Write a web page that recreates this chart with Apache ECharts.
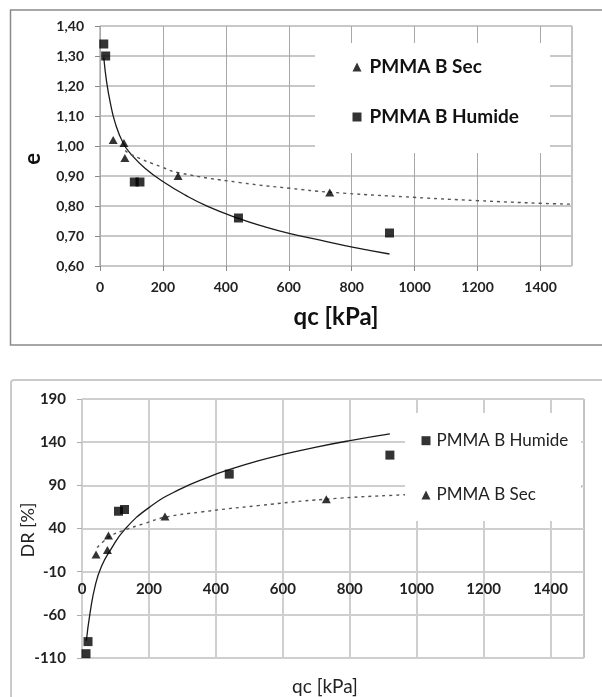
<!DOCTYPE html>
<html>
<head>
<meta charset="utf-8">
<script src="https://cdn.jsdelivr.net/npm/echarts@6/dist/echarts.min.js"></script>
<style>
  html, body { margin: 0; padding: 0; background: #fff; }
  #chart { width: 602px; height: 697px; }
</style>
</head>
<body>
<div id="chart"></div>
<script>
// Measurements: cone resistance qc [kPa] vs void ratio e and relative density DR [%]
const qcHumide = [12, 18, 109, 127, 440, 920];
const eHumide = [1.34, 1.30, 0.88, 0.88, 0.76, 0.71];
const drHumide = [-105, -91, 60, 62, 103, 125];

const qcSec = [42, 76, 79, 248, 730];
const eSec = [1.02, 1.01, 0.96, 0.90, 0.845];
const drSec = [10, 15, 32, 54, 74];

// Trend curves (e)
const trendHumideQcE = [12, 21, 32, 48, 74, 101, 143, 201, 270, 344, 440, 520, 604, 700, 806, 920];
const trendHumideE = [1.295, 1.214, 1.148, 1.078, 1.009, 0.97, 0.926, 0.881, 0.837, 0.798, 0.759, 0.732, 0.708, 0.686, 0.662, 0.640];
const trendSecQcE = [80, 101, 196, 249, 445, 604, 731, 996, 1198, 1399, 1500];
const trendSecE = [0.985, 0.97, 0.93, 0.911, 0.878, 0.859, 0.846, 0.829, 0.818, 0.809, 0.806];

// Trend curves (DR)
const trendHumideQcDr = [13, 24, 39, 58, 88, 128, 198, 287, 387, 438, 526, 602, 700, 801, 920];
const trendHumideDr = [-90, -58, -27, -4, 17, 39, 63.6, 84.4, 101, 108, 118.3, 125.8, 134.3, 141.8, 149.5];
const trendSecQcDr = [45, 64, 88, 118, 188, 248, 353, 526, 731, 960, 1500];
const trendSecDr = [18, 25, 32, 37, 46, 53, 59, 66.5, 74, 79, 88];

// Axis ticks
const qcTicks = [0, 200, 400, 600, 800, 1000, 1200, 1400];
const eTicks = [0.6, 0.7, 0.8, 0.9, 1.0, 1.1, 1.2, 1.3, 1.4];
const drTicks = [-110, -60, -10, 40, 90, 140, 190];

const pairs = (xs, ys) => xs.map((x, i) => [x, ys[i]]);
const FONT = 'Lato';

const chart = echarts.init(document.getElementById('chart'), null, { renderer: 'canvas' });

const markerSec = { symbol: 'triangle', symbolSize: [9, 8], itemStyle: { color: '#000' } };
const markerHum = { symbol: 'rect', symbolSize: 9, itemStyle: { color: '#000' } };
const plain = v => String(v);

// DR axis: the qc labels sit on the DR = 0 level, as in the spreadsheet layout
const drGridTop = 399, drGridHeight = 259, drMin = -110, drMax = 190;
const zeroOffset = -(0 - drMin) / (drMax - drMin) * drGridHeight;

const trendSolid = { smooth: 0.5, showSymbol: false, lineStyle: { color: '#1a1a1a', width: 1.3 }, z: 2, silent: true };
const trendDashed = { smooth: 0.5, showSymbol: false, lineStyle: { color: '#555', width: 1.4, type: [3, 4] }, z: 2, silent: true };

chart.setOption({
  animation: false,
  backgroundColor: '#fff',
  grid: [
    { left: 100, top: 26, width: 472, height: 240, show: true, borderColor: '#888', borderWidth: 1, backgroundColor: 'transparent' },
    { left: 82, top: drGridTop, width: 502, height: drGridHeight, show: true, borderColor: '#888', borderWidth: 1, backgroundColor: 'transparent' }
  ],
  xAxis: [
    {
      gridIndex: 0, type: 'value', min: 0, max: 1500,
      axisLine: { show: false },
      axisTick: { show: true, inside: false, length: 5, lineStyle: { color: '#888' }, customValues: qcTicks },
      axisLabel: { customValues: qcTicks, formatter: plain, margin: 14, fontFamily: FONT, fontWeight: 'bold', fontSize: 14, color: '#222' },
      splitLine: { show: true, lineStyle: { color: '#a8a8a8', width: 1 } }
    },
    {
      gridIndex: 1, type: 'value', min: 0, max: 1500, position: 'bottom', offset: zeroOffset,
      axisLine: { show: false, onZero: false },
      axisTick: { show: false, customValues: qcTicks },
      axisLabel: { customValues: qcTicks, formatter: plain, margin: 19, fontFamily: FONT, fontWeight: 'bold', fontSize: 15, color: '#222' },
      splitLine: { show: true, lineStyle: { color: '#cfcfcf', width: 2 } }
    }
  ],
  yAxis: [
    {
      gridIndex: 0, type: 'value', min: 0.6, max: 1.4,
      axisLine: { show: false },
      axisTick: { show: true, inside: false, length: 5, lineStyle: { color: '#888' }, customValues: eTicks },
      axisLabel: {
        customValues: eTicks, margin: 16, fontFamily: FONT, fontWeight: 'bold', fontSize: 14, color: '#222',
        formatter: v => v.toFixed(2).replace('.', ',')
      },
      splitLine: { show: true, lineStyle: { color: '#c8c8c8', width: 2 } }
    },
    {
      gridIndex: 1, type: 'value', min: drMin, max: drMax,
      axisLine: { show: false },
      axisTick: { show: true, inside: false, length: 5, lineStyle: { color: '#aaa' }, customValues: drTicks },
      axisLabel: { customValues: drTicks, formatter: plain, margin: 16, fontFamily: FONT, fontWeight: 'bold', fontSize: 15, color: '#222' },
      splitLine: { show: true, lineStyle: { color: '#cfcfcf', width: 2 } }
    }
  ],
  legend: [
    {
      orient: 'vertical', left: 352.5, top: 57, padding: 0, itemGap: 30,
      itemWidth: 9, itemHeight: 9, selectedMode: false,
      textStyle: { fontFamily: FONT, fontWeight: 'bold', fontSize: 19, lineHeight: 20, color: '#111', padding: [0, 0, 0, 3] },
      data: [{ name: 'PMMA B Sec', icon: 'triangle' }, { name: 'PMMA B Humide', icon: 'rect' }]
    },
    {
      orient: 'vertical', left: 421.5, top: 430.7, padding: 0, itemGap: 34.3,
      itemWidth: 9, itemHeight: 9, selectedMode: false,
      textStyle: { fontFamily: FONT, fontSize: 17, lineHeight: 20, color: '#222', padding: [0, 0, 0, 1] },
      data: [{ name: 'PMMA B Humide', icon: 'rect' }, { name: 'PMMA B Sec', icon: 'triangle' }]
    }
  ],
  graphic: [
    // chart frames
    { type: 'rect', shape: { x: 10.5, y: 10, width: 700, height: 335 }, style: { fill: 'none', stroke: '#8a8a8a', lineWidth: 1.5 }, z: 0, silent: true },
    { type: 'rect', shape: { x: 11, y: 380, width: 700, height: 400, r: 3 }, style: { fill: 'none', stroke: '#cacaca', lineWidth: 2 }, z: 0, silent: true },
    // legend backgrounds
    { type: 'rect', shape: { x: 315, y: 43, width: 235, height: 110 }, style: { fill: '#fff' }, z: 3, silent: true },
    { type: 'rect', shape: { x: 405, y: 413, width: 176, height: 108 }, style: { fill: '#fff' }, z: 3, silent: true },
    // axis titles
    { type: 'text', x: 33, y: 159, rotation: Math.PI / 2, style: { text: 'e', font: 'bold 22px Lato', fill: '#111', align: 'center', verticalAlign: 'middle' }, z: 5 },
    { type: 'text', x: 336, y: 317, style: { text: 'qc [kPa]', font: 'bold 24px Lato', fill: '#111', align: 'center', verticalAlign: 'middle' }, z: 5 },
    { type: 'text', x: 28.5, y: 530, rotation: Math.PI / 2, style: { text: 'DR [%]', font: '18px Lato', fill: '#222', align: 'center', verticalAlign: 'middle' }, z: 5 },
    { type: 'text', x: 325, y: 686.5, style: { text: 'qc [kPa]', font: '19px Lato', fill: '#222', align: 'center', verticalAlign: 'middle' }, z: 5 }
  ],
  series: [
    // e vs qc
    Object.assign({ name: 'PMMA B Humide trend e', type: 'line', xAxisIndex: 0, yAxisIndex: 0, data: pairs(trendHumideQcE, trendHumideE) }, trendSolid),
    Object.assign({ name: 'PMMA B Sec trend e', type: 'line', xAxisIndex: 0, yAxisIndex: 0, data: pairs(trendSecQcE, trendSecE) }, trendDashed),
    Object.assign({ name: 'PMMA B Sec', type: 'scatter', xAxisIndex: 0, yAxisIndex: 0, data: pairs(qcSec, eSec), z: 2 }, markerSec),
    Object.assign({ name: 'PMMA B Humide', type: 'scatter', xAxisIndex: 0, yAxisIndex: 0, data: pairs(qcHumide, eHumide), z: 2 }, markerHum),
    // DR vs qc
    Object.assign({ name: 'PMMA B Humide trend DR', type: 'line', xAxisIndex: 1, yAxisIndex: 1, data: pairs(trendHumideQcDr, trendHumideDr) }, trendSolid),
    Object.assign({ name: 'PMMA B Sec trend DR', type: 'line', xAxisIndex: 1, yAxisIndex: 1, data: pairs(trendSecQcDr, trendSecDr) }, trendDashed),
    Object.assign({ name: 'PMMA B Humide', type: 'scatter', xAxisIndex: 1, yAxisIndex: 1, data: pairs(qcHumide, drHumide), z: 2 }, markerHum),
    Object.assign({ name: 'PMMA B Sec', type: 'scatter', xAxisIndex: 1, yAxisIndex: 1, data: pairs(qcSec, drSec), z: 2 }, markerSec)
  ]
});
</script>
</body>
</html>
